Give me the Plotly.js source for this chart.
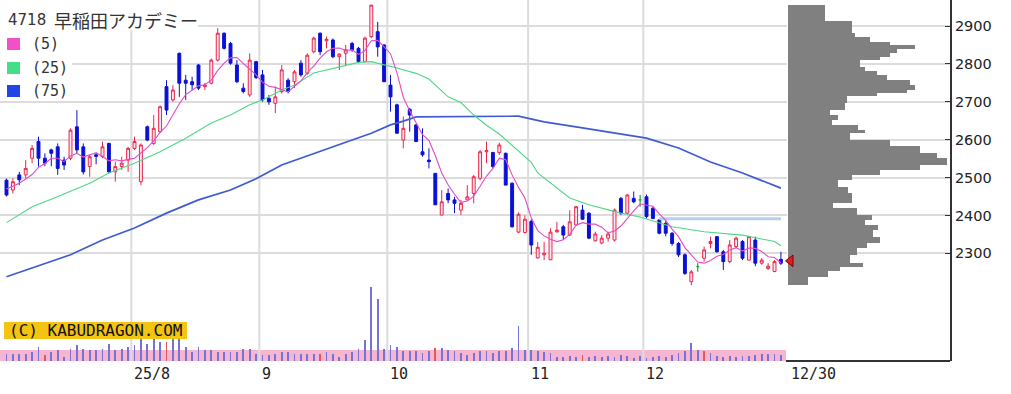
<!DOCTYPE html>
<html><head><meta charset="utf-8">
<script src="https://cdn.plot.ly/plotly-3.0.1.min.js"></script>
<style>html,body{margin:0;padding:0;background:#fff;}#chart{width:1011px;height:394px;}</style>
</head><body><div id="chart"></div>
<script>
// ---- trading days (2025) ----
const julDays = [3,4,7,8,9,10,11,14,15,16,17,18,22,23,24,25,28,29,30,31];
const augDays = [1,4,5,6,7,8,12,13,14,15,18,19,20,21,22,25,26,27,28,29];
const sepDays = [1,2,3,4,5,8,9,10,11,12,16,17,18,19,22,24,25,26,29,30];
const octDays = [1,2,3,6,7,8,9,10,14,15,16,17,20,21,22,23,24,27,28,29,30,31];
const novDays = [4,5,6,7,10,11,12,13,14,17,18,19,20,21,25,26,27,28];
const decDays = [1,2,3,4,5,8,9,10,11,12,15,16,17,18,19,22,23,24,25,26,29,30];

const stockTitleCode = '4718';
const stockTitleName = '早稲田アカデミー';
const legendLabels = ['(5)', '(25)', '(75)'];
const monthLabels = ['25/8', '9', '10', '11', '12'];
const lastDateLabel = '12/30';
const copyrightText = '(C) KABUDRAGON.COM';

const openPrice = [2493,2467,2507,2507,2551,2595,2551,2573,2581,2546,
2551,2634,2581,2529,2560,2555,2590,2515,2529,2546,
2577,2489,2634,2590,2621,2740,2705,2828,2757,2753,
2797,2740,2749,2810,2881,2854,2797,2736,2718,2806,
2771,2709,2696,2727,2757,2753,2802,2775,2832,2881,
2861,2863,2819,2828,2854,2841,2806,2872,2885,2850,
2744,2692,2599,2680,2639,2568,2546,2511,2401,2458,
2441,2414,2441,2458,2498,2568,2566,2566,2564,2485,
2356,2355,2384,2288,2296,2283,2357,2370,2348,2375,
2414,2406,2333,2327,2340,2335,2445,2406,2445,2441,
2449,2419,2388,2379,2353,2326,2296,2225,2265,2287,
2326,2344,2304,2278,2318,2331,2282,2335,2274,2260,
2252,2284];
const highPrice = [2497,2498,2515,2546,2586,2608,2564,2576,2590,2555,
2630,2678,2590,2560,2566,2595,2592,2542,2555,2581,
2608,2590,2637,2665,2690,2757,2744,2830,2771,2766,
2800,2750,2814,2894,2883,2858,2810,2749,2828,2808,
2784,2718,2740,2797,2762,2784,2810,2828,2872,2883,
2872,2867,2828,2850,2858,2845,2872,2956,2911,2852,
2771,2695,2661,2684,2641,2630,2577,2512,2467,2471,
2449,2441,2480,2507,2573,2595,2568,2592,2566,2487,
2408,2400,2390,2330,2330,2366,2383,2375,2414,2425,
2428,2408,2357,2348,2357,2418,2449,2456,2463,2454,
2455,2422,2391,2385,2356,2330,2300,2256,2274,2318,
2344,2345,2309,2335,2344,2335,2346,2344,2287,2274,
2282,2304];
const lowPrice = [2450,2458,2480,2498,2538,2529,2530,2530,2507,2520,
2546,2564,2508,2502,2535,2551,2512,2489,2520,2515,
2573,2480,2596,2586,2618,2665,2700,2713,2705,2731,
2731,2731,2746,2806,2838,2798,2749,2722,2713,2760,
2700,2692,2670,2722,2722,2736,2766,2771,2828,2823,
2841,2815,2784,2797,2832,2802,2805,2868,2819,2752,
2674,2617,2577,2621,2595,2555,2524,2428,2401,2432,
2406,2401,2441,2432,2493,2538,2525,2560,2480,2368,
2353,2352,2296,2286,2282,2282,2354,2335,2347,2374,
2388,2338,2331,2324,2331,2331,2401,2404,2432,2423,
2392,2390,2350,2345,2320,2290,2243,2216,2251,2278,
2313,2302,2256,2274,2313,2282,2280,2266,2270,2256,
2250,2269];
const closePrice = [2454,2489,2494,2524,2577,2551,2538,2564,2524,2533,
2625,2573,2515,2555,2556,2581,2515,2529,2538,2577,
2595,2586,2599,2630,2687,2678,2731,2749,2749,2745,
2736,2744,2810,2881,2841,2802,2753,2727,2810,2764,
2705,2700,2713,2784,2727,2779,2771,2823,2868,2832,
2865,2819,2826,2837,2837,2806,2868,2955,2845,2753,
2713,2617,2630,2665,2595,2560,2542,2428,2436,2441,
2432,2432,2449,2502,2568,2571,2529,2586,2480,2370,
2403,2390,2322,2316,2300,2356,2361,2348,2383,2423,
2390,2340,2351,2340,2351,2414,2406,2454,2436,2441,
2397,2392,2353,2353,2326,2296,2247,2251,2265,2309,
2331,2304,2278,2322,2340,2287,2344,2274,2282,2266,
2278,2274];
const volume = [15,15,15,15,19,29,12,19,22,9,
25,32,25,22,22,25,35,22,25,29,
32,45,35,45,39,39,45,45,29,19,
29,22,22,19,19,19,19,25,25,15,
12,12,15,19,19,15,15,15,15,15,
19,15,9,15,19,25,42,149,125,25,
32,29,20,20,20,17,20,27,27,23,
20,17,13,17,20,20,17,20,20,27,
71,23,23,20,18,17,9,9,10,9,
13,9,10,9,11,9,13,10,7,11,
7,9,10,9,13,17,20,37,23,20,
17,10,9,11,9,11,11,13,15,15,
15,13];
const sqDays = ['2025-07-11','2025-08-08','2025-09-12','2025-10-10','2025-11-14','2025-12-12'];

const ma5 = [2470,2478,2485,2496,2508,2527,2537,2551,2551,2542,
2557,2564,2554,2560,2565,2556,2544,2547,2544,2548,
2551,2565,2579,2597,2619,2636,2665,2695,2719,2730,
2742,2745,2757,2783,2802,2816,2817,2801,2787,2771,
2752,2741,2738,2733,2726,2741,2755,2777,2794,2815,
2832,2841,2842,2836,2837,2825,2835,2861,2862,2845,
2827,2777,2712,2676,2644,2613,2598,2558,2512,2481,
2456,2434,2438,2451,2477,2504,2524,2551,2547,2507,
2474,2446,2393,2360,2346,2337,2331,2336,2350,2374,
2381,2377,2377,2369,2354,2359,2372,2393,2412,2430,
2427,2424,2404,2387,2364,2344,2315,2295,2277,2274,
2281,2292,2297,2309,2315,2306,2314,2313,2305,2291,
2289,2275];

const ma25Dates = ['2025-07-03','2025-07-09','2025-07-14','2025-07-17','2025-07-23','2025-07-28','2025-08-01','2025-08-07','2025-08-14','2025-08-20','2025-08-25','2025-08-28','2025-09-01','2025-09-04','2025-09-08','2025-09-11','2025-09-18','2025-09-24','2025-09-26','2025-09-30','2025-10-02','2025-10-07','2025-10-09','2025-10-15','2025-10-17','2025-10-21','2025-10-23','2025-10-27','2025-10-29','2025-11-04','2025-11-05','2025-11-10','2025-11-12','2025-11-17','2025-11-20','2025-11-25','2025-11-28','2025-12-05','2025-12-12','2025-12-22','2025-12-29','2025-12-30'];
const ma25Values = [2381,2423,2443,2463,2485,2512,2538,2568,2604,2644,2665,2692,2705,2731,2744,2776,2792,2804,2806,2798,2789,2775,2760,2713,2698,2665,2638,2615,2586,2540,2512,2472,2446,2428,2414,2406,2396,2370,2357,2348,2331,2320];

const ma75Dates = ['2025-07-03','2025-07-09','2025-07-17','2025-07-25','2025-08-01','2025-08-08','2025-08-18','2025-08-25','2025-08-29','2025-09-04','2025-09-12','2025-09-22','2025-09-26','2025-10-01','2025-10-03','2025-10-07','2025-10-30','2025-11-06','2025-11-13','2025-11-20','2025-12-01','2025-12-08','2025-12-15','2025-12-22','2025-12-30'];
const ma75Values = [2238,2261,2296,2335,2367,2406,2441,2467,2497,2533,2568,2599,2617,2639,2649,2660,2662,2647,2634,2621,2604,2578,2541,2512,2472];

const levelLineDates = ['2025-12-03','2025-12-30'];
const levelLinePrice = 2391;
const currentPrice = 2280;

// price-volume profile: bin edges (descending) and volumes
const profileEdges = [2956,2912,2881,2872,2859,2850,2839,2828,2819,2810,2793,2780,2771,2758,2744,2731,2722,2714,2696,2678,2665,2652,2639,2626,2617,2599,2582,2564,2551,2533,2520,2507,2494,2476,2458,2432,2419,2401,2388,2375,2362,2344,2326,2313,2296,2274,2265,2252,2238,2216];
const profileVolume = [37,64,67,82,102,127,109,102,92,72,77,89,99,122,127,119,89,59,57,42,50,44,70,77,62,102,132,149,159,132,92,64,50,60,64,45,69,84,77,90,85,92,79,69,62,75,52,40,20];

const priceTicks = [2300,2400,2500,2600,2700,2800,2900];

// ---- build ----
const pad = n => (n < 10 ? '0' + n : '' + n);
const dates = [].concat(
  julDays.map(d => '2025-07-' + pad(d)),
  augDays.map(d => '2025-08-' + pad(d)),
  sepDays.map(d => '2025-09-' + pad(d)),
  octDays.map(d => '2025-10-' + pad(d)),
  novDays.map(d => '2025-11-' + pad(d)),
  decDays.map(d => '2025-12-' + pad(d))
);

const mainIdx = [], dojiIdx = [];
dates.forEach((d, i) => { (openPrice[i] === closePrice[i] ? dojiIdx : mainIdx).push(i); });
const pick = (arr, idx) => idx.map(i => arr[i]);

const PW = 950, PH = 361;
const px = v => v / PW;
const py = v => 1 - v / PH;

const traces = [];
traces.push({
  type: 'bar', x: dates, y: volume, xaxis: 'x', yaxis: 'y2', width: 0.28,
  marker: { color: dates.map(d => sqDays.includes(d) ? '#e05a5a' : '#7373d8'), line: { width: 0 } },
  hoverinfo: 'skip'
});
traces.push({
  type: 'candlestick', x: pick(dates, mainIdx), open: pick(openPrice, mainIdx), high: pick(highPrice, mainIdx),
  low: pick(lowPrice, mainIdx), close: pick(closePrice, mainIdx), xaxis: 'x', yaxis: 'y', whiskerwidth: 0,
  increasing: { line: { color: '#e8264e', width: 1 }, fillcolor: '#ffe6ee' },
  decreasing: { line: { color: '#0a10d6', width: 1 }, fillcolor: '#0a10d6' },
  hoverinfo: 'skip'
});
traces.push({
  type: 'candlestick', x: pick(dates, dojiIdx), open: pick(openPrice, dojiIdx), high: pick(highPrice, dojiIdx),
  low: pick(lowPrice, dojiIdx), close: pick(closePrice, dojiIdx), xaxis: 'x', yaxis: 'y', whiskerwidth: 0,
  increasing: { line: { color: '#22a033', width: 1.2 }, fillcolor: '#22a033' },
  decreasing: { line: { color: '#22a033', width: 1.2 }, fillcolor: '#22a033' },
  hoverinfo: 'skip'
});
traces.push({ type: 'scatter', mode: 'lines', x: ma75Dates, y: ma75Values, xaxis: 'x', yaxis: 'y',
  line: { color: '#3f5bd2', width: 1.7 }, hoverinfo: 'skip' });
traces.push({ type: 'scatter', mode: 'lines', x: ma25Dates, y: ma25Values, xaxis: 'x', yaxis: 'y',
  line: { color: '#4fd684', width: 1.1 }, hoverinfo: 'skip' });
traces.push({ type: 'scatter', mode: 'lines', x: levelLineDates, y: levelLineDates.map(() => levelLinePrice), xaxis: 'x', yaxis: 'y',
  line: { color: '#b4d0f2', width: 3 }, hoverinfo: 'skip' });
traces.push({ type: 'scatter', mode: 'lines', x: dates, y: ma5, xaxis: 'x', yaxis: 'y',
  line: { color: '#e24cc6', width: 1.1 }, hoverinfo: 'skip' });

const profMid = profileVolume.map((v, k) => (profileEdges[k] + profileEdges[k + 1]) / 2);
const profSpan = profileVolume.map((v, k) => profileEdges[k] - profileEdges[k + 1]);
traces.push({ type: 'bar', orientation: 'h', x: profileVolume, y: profMid, width: profSpan, base: 0,
  xaxis: 'x2', yaxis: 'y', marker: { color: '#808080', line: { width: 0 } }, hoverinfo: 'skip' });
traces.push({ type: 'scatter', mode: 'markers', x: [2.5], y: [currentPrice], xaxis: 'x2', yaxis: 'y', cliponaxis: false,
  marker: { symbol: 'triangle-left', size: 10, color: '#e81a1a', line: { color: '#7a0000', width: 1 } }, hoverinfo: 'skip' });

// month boundaries from data
const monthPos = [];
for (let i = 1; i < dates.length; i++) if (dates[i].slice(0, 7) !== dates[i - 1].slice(0, 7)) monthPos.push(i - 0.5);

const shapes = [];
shapes.push({ type: 'rect', xref: 'paper', yref: 'paper', x0: 0, x1: px(786), y0: 0, y1: 11 / PH,
  fillcolor: '#f6b6d2', line: { width: 0 }, layer: 'below' });
monthPos.forEach(p => shapes.push({ type: 'line', xref: 'x', yref: 'paper', x0: p, x1: p, y0: 0, y1: 1,
  line: { color: '#dcdcdc', width: 2 }, layer: 'below' }));
shapes.push({ type: 'line', xref: 'paper', yref: 'paper', x0: px(786), x1: 1, y0: 0, y1: 0, line: { color: '#333', width: 2 } });
// legend backgrounds
shapes.push({ type: 'rect', xref: 'paper', yref: 'paper', x0: 0, x1: px(198), y0: py(30), y1: 1, fillcolor: '#fff', line: { width: 0 }, layer: 'above' });
shapes.push({ type: 'rect', xref: 'paper', yref: 'paper', x0: 0, x1: px(72), y0: py(100), y1: 1, fillcolor: '#fff', line: { width: 0 }, layer: 'above' });
const legendColors = ['#f050c8', '#44dd88', '#2244e6'];
const legendY = [44, 68, 91];
legendColors.forEach((c, k) => shapes.push({ type: 'rect', xref: 'paper', yref: 'paper',
  x0: px(7), x1: px(20), y0: py(legendY[k] + 6), y1: py(legendY[k] - 6), fillcolor: c, line: { width: 0 }, layer: 'above' }));
// copyright box
shapes.push({ type: 'rect', xref: 'paper', yref: 'paper', x0: px(4), x1: px(187), y0: py(339), y1: py(322),
  fillcolor: '#f3c412', line: { width: 0 }, layer: 'above' });

const annotations = [];
annotations.push({ xref: 'paper', yref: 'paper', x: px(6), y: py(20), xanchor: 'left', yanchor: 'middle', showarrow: false,
  text: stockTitleCode, font: { family: 'DejaVu Sans', size: 15, color: '#333' } });
annotations.push({ xref: 'paper', yref: 'paper', x: px(52), y: py(20), xanchor: 'left', yanchor: 'middle', showarrow: false,
  text: stockTitleName, font: { family: 'Noto Sans CJK JP', size: 18, color: '#333' } });
legendLabels.forEach((t, k) => annotations.push({ xref: 'paper', yref: 'paper', x: px(30), y: py(legendY[k]), xanchor: 'left', yanchor: 'middle',
  showarrow: false, text: t, font: { family: 'DejaVu Sans Mono', size: 15, color: '#333' } }));
annotations.push({ xref: 'paper', yref: 'paper', x: px(95.5), y: py(330.5), xanchor: 'center', yanchor: 'middle', showarrow: false,
  text: copyrightText, font: { family: 'DejaVu Sans Mono', size: 16, color: '#111' } });
monthPos.forEach((p, k) => annotations.push({ xref: 'x', yref: 'paper', x: p, y: 0, xanchor: 'left', yanchor: 'top', xshift: 1, yshift: -2,
  showarrow: false, text: monthLabels[k], font: { family: 'DejaVu Sans Mono', size: 15, color: '#222' } }));
annotations.push({ xref: 'paper', yref: 'paper', x: px(789), y: 0, xanchor: 'left', yanchor: 'top', yshift: -2,
  showarrow: false, text: lastDateLabel, font: { family: 'DejaVu Sans Mono', size: 15, color: '#222' } });

const layout = {
  width: 1011, height: 394,
  margin: { l: 0, r: 61, t: 0, b: 33, pad: 0 },
  paper_bgcolor: '#fff', plot_bgcolor: 'rgba(0,0,0,0)',
  showlegend: false, boxgap: 0.35, bargap: 0,
  xaxis: { type: 'category', categoryorder: 'array', categoryarray: dates, domain: [0, 787 / PW], range: [-1.016, 121.95],
    showgrid: false, showticklabels: false, ticks: '', zeroline: false, showline: false, rangeslider: { visible: false }, fixedrange: true },
  xaxis2: { domain: [788 / PW, 1], range: [0, 162], anchor: 'y', showgrid: false, showticklabels: false, ticks: '', zeroline: false, showline: false },
  yaxis: { range: [2015.7, 2968.7], side: 'right', anchor: 'x2', tickmode: 'array', tickvals: priceTicks, ticks: 'inside', ticklen: 5,
    tickcolor: '#333', tickwidth: 1, showline: true, linecolor: '#333', linewidth: 2, showgrid: true, gridcolor: '#dcdcdc', gridwidth: 2,
    zeroline: false, tickfont: { family: 'DejaVu Sans', size: 14.5, color: '#222' } },
  yaxis2: { overlaying: 'y', anchor: 'x', range: [0, 722], visible: false },
  shapes: shapes, annotations: annotations
};

Plotly.newPlot('chart', traces, layout, { staticPlot: true, displayModeBar: false });
</script>
</body></html>
